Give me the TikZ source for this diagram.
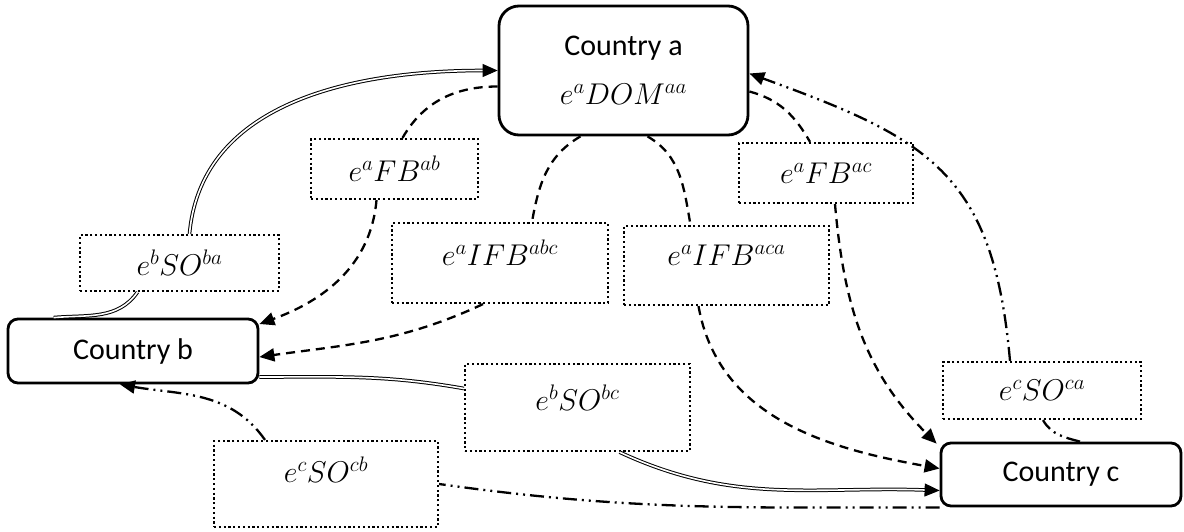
\RequirePackage{fix-cm}
\documentclass[tikz,border=0pt]{standalone}
\usepackage{fontspec}
\setmainfont{Carlito}
\usetikzlibrary{arrows.meta}

\begin{document}
\begin{tikzpicture}[x=1pt, y=-1pt,
country/.style={rectangle, rounded corners=10pt, draw=black, line width=2.8pt, font=\fontsize{30}{36}\selectfont},
flowbox/.style={rectangle, draw=black, line width=2.2pt, dash pattern=on 2.2pt off 2.6pt, inner sep=0pt, font=\fontsize{30}{36}\selectfont},
fb_line/.style={line width=2.3pt, dash pattern=on 9pt off 6pt},
so_line/.style={double, double distance=1.6pt, line width=1pt},
sc_line/.style={line width=2.3pt, dash pattern=on 14pt off 5pt on 2pt off 5pt on 2pt off 5pt},
arrow_end/.style={-{Triangle[length=15pt, width=13pt]}},
]
\useasboundingbox (0,0) rectangle (1184,531);

% countries
\node[country, rounded corners=20pt, minimum width=249pt, minimum height=129pt, align=center](country_a) at (623.5,70.5) {Country a\\[13pt]$e^aDOM^{aa}$};
\node[country, minimum width=250pt, minimum height=64pt](country_b) at (133,351) {Country b};
\node[country, minimum width=240pt, minimum height=63pt](country_c) at (1061,474.5) {Country c};

% flows
\node[flowbox, minimum width=167pt, minimum height=60pt](fb_ab) at (394.5,169) {$e^aFB^{ab}$};
\node[flowbox, minimum width=199pt, minimum height=56pt](so_ba) at (179.5,263) {$e^bSO^{ba}$};
\node[flowbox, minimum width=216pt, minimum height=80pt, text depth=20pt](ifb_abc) at (500,263) {$e^aIFB^{abc}$};
\node[flowbox, minimum width=205pt, minimum height=79pt, text depth=20pt](ifb_aca) at (726.5,265.5) {$e^aIFB^{aca}$};
\node[flowbox, minimum width=174pt, minimum height=60pt](fb_ac) at (826,173) {$e^aFB^{ac}$};
\node[flowbox, minimum width=225pt, minimum height=87pt, text depth=20pt](so_bc) at (577.5,407.5) {$e^bSO^{bc}$};
\node[flowbox, minimum width=224pt, minimum height=86pt, text depth=28pt](so_cb) at (326,484) {$e^cSO^{cb}$};
\node[flowbox, minimum width=198pt, minimum height=57pt](so_ca) at (1042,390.5) {$e^cSO^{ca}$};

% double lines
\draw[so_line] ([xshift=47pt]country_b.north west) to[out=5, in=-125] ([xshift=-42pt]so_ba.south);
\draw[so_line, arrow_end] ([xshift=10pt]so_ba.north) to[out=85, in=180] (country_a.west);
\draw[so_line] ([yshift=-26pt]country_b.east) to[out=0, in=170] ([yshift=19pt]so_bc.west);
\draw[so_line, arrow_end] ([xshift=42pt]so_bc.south) to[out=-25, in=178] ([yshift=-16pt]country_c.west);

% dashed lines
\draw[fb_line] ([yshift=-16pt]country_a.west) to[out=180, in=60] ([xshift=8pt]fb_ab.north);
\draw[fb_line, arrow_end] ([xshift=-18pt]fb_ab.south) to[out=-95, in=20] ([yshift=27pt]country_b.east);
\draw[fb_line] ([xshift=-43pt]country_a.south) to[out=-150, in=80] ([xshift=32pt]ifb_abc.north);
\draw[fb_line, arrow_end] ([xshift=-17pt]ifb_abc.south) to[out=-155, in=8] ([yshift=-6pt]country_b.east);
\draw[fb_line] ([xshift=24pt]country_a.south) to[out=-30, in=100] ([xshift=-36pt]ifb_aca.north);
\draw[fb_line, arrow_end] ([xshift=-28pt]ifb_aca.south) to[out=-80, in=170] ([yshift=6pt]country_c.west);
\draw[fb_line] ([yshift=-21pt]country_a.east) to[out=-15, in=120] ([xshift=-16pt]fb_ac.north);
\draw[fb_line, arrow_end] ([xshift=9pt]fb_ac.south) to[out=-85, in=135] ([xshift=-3pt, yshift=-2pt]country_c.north west);

% dash dot lines
\draw[sc_line] ([xshift=19pt]country_c.north) to[out=165, in=-60] ([xshift=1pt]so_ca.south);
\draw[sc_line, arrow_end] ([xshift=-32pt]so_ca.north) to[out=95, in=-20, looseness=1.25] ([yshift=-3pt]country_a.east);
\draw[sc_line] (country_c.south west) to[out=180, in=-8] (so_cb.east);
\draw[sc_line, arrow_end] ([xshift=-61pt]so_cb.north) to[out=125, in=-10] ([xshift=-13pt]country_b.south);

\end{tikzpicture}
\end{document}
